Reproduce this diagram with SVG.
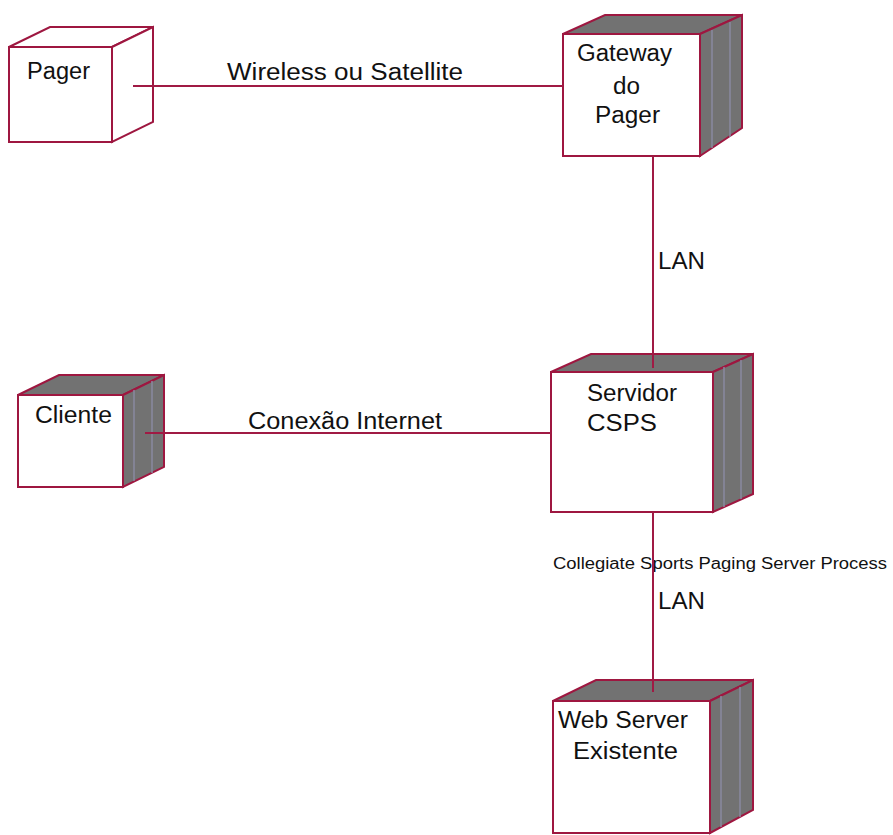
<svg xmlns="http://www.w3.org/2000/svg" width="893" height="835" viewBox="0 0 893 835">
<style>
.face{fill:#ffffff;stroke:#9e1740;stroke-width:2}
.side{fill:#727272;stroke:#9e1740;stroke-width:2}
.wside{fill:#ffffff;stroke:#9e1740;stroke-width:2}
.hl{stroke:#8a8aa0;stroke-width:1.5;fill:none}
.conn{stroke:#a01a44;stroke-width:2;fill:none}
text{font-family:"Liberation Sans",Arial,sans-serif;font-size:23px;fill:#111}
.small{font-size:16px}
</style>
<rect width="893" height="835" fill="#ffffff"/>
<g id="pager">
<polygon class="wside" points="9,47 50,27 153,27 112,47"/>
<polygon class="wside" points="112,47 153,27 153,122 112,142"/>
<rect class="face" x="9" y="47" width="103" height="95"/>
<text x="27" y="79" textLength="63" lengthAdjust="spacingAndGlyphs">Pager</text>
</g>
<g id="gateway">
<polygon class="side" points="563,34 605,15 742,15 700,34"/>
<polygon class="side" points="700,34 742,15 742,128 700,156"/>
<line class="hl" x1="712" y1="30" x2="712" y2="148"/>
<line class="hl" x1="730" y1="22" x2="730" y2="137"/>
<rect class="face" x="563" y="34" width="137" height="122"/>
<text x="577" y="61" textLength="95" lengthAdjust="spacingAndGlyphs">Gateway</text>
<text x="613" y="94" textLength="27" lengthAdjust="spacingAndGlyphs">do</text>
<text x="595" y="123" textLength="65" lengthAdjust="spacingAndGlyphs">Pager</text>
</g>
<g id="cliente">
<polygon class="side" points="18,395 59,375 164,375 123,395"/>
<polygon class="side" points="123,395 164,375 164,467 123,487"/>
<line class="hl" x1="134" y1="390" x2="134" y2="481"/>
<line class="hl" x1="152" y1="381" x2="152" y2="473"/>
<rect class="face" x="18" y="395" width="105" height="92"/>
<text x="35" y="423" textLength="77" lengthAdjust="spacingAndGlyphs">Cliente</text>
</g>
<g id="servidor">
<polygon class="side" points="551,372 591,354 753,354 713,372"/>
<polygon class="side" points="713,372 753,354 753,494 713,512"/>
<line class="hl" x1="724" y1="367" x2="724" y2="507"/>
<line class="hl" x1="741" y1="360" x2="741" y2="499"/>
<rect class="face" x="551" y="372" width="162" height="140"/>
<text x="587" y="401" textLength="90" lengthAdjust="spacingAndGlyphs">Servidor</text>
<text x="587" y="431" textLength="70" lengthAdjust="spacingAndGlyphs">CSPS</text>
<text class="small" x="553" y="569" textLength="334" lengthAdjust="spacingAndGlyphs">Collegiate Sports Paging Server Process</text>
</g>
<g id="webserver">
<polygon class="side" points="553,701 596,680 753,680 710,701"/>
<polygon class="side" points="710,701 753,680 753,810 710,833"/>
<line class="hl" x1="721" y1="696" x2="721" y2="827"/>
<line class="hl" x1="740" y1="687" x2="740" y2="817"/>
<rect class="face" x="553" y="701" width="157" height="132"/>
<text x="558" y="728" textLength="130" lengthAdjust="spacingAndGlyphs">Web Server</text>
<text x="573" y="759" textLength="105" lengthAdjust="spacingAndGlyphs">Existente</text>
</g>
<g id="connectors">
<line class="conn" x1="133" y1="86" x2="563" y2="86"/>
<line class="conn" x1="145" y1="433" x2="551" y2="433"/>
<line class="conn" x1="653" y1="156" x2="653" y2="368"/>
<line class="conn" x1="653" y1="512" x2="653" y2="692"/>
<text x="227" y="80" textLength="236" lengthAdjust="spacingAndGlyphs">Wireless ou Satellite</text>
<text x="248" y="429" textLength="194" lengthAdjust="spacingAndGlyphs">Conexão Internet</text>
<text x="658" y="269" textLength="47" lengthAdjust="spacingAndGlyphs">LAN</text>
<text x="658" y="609" textLength="47" lengthAdjust="spacingAndGlyphs">LAN</text>
</g>
</svg>
